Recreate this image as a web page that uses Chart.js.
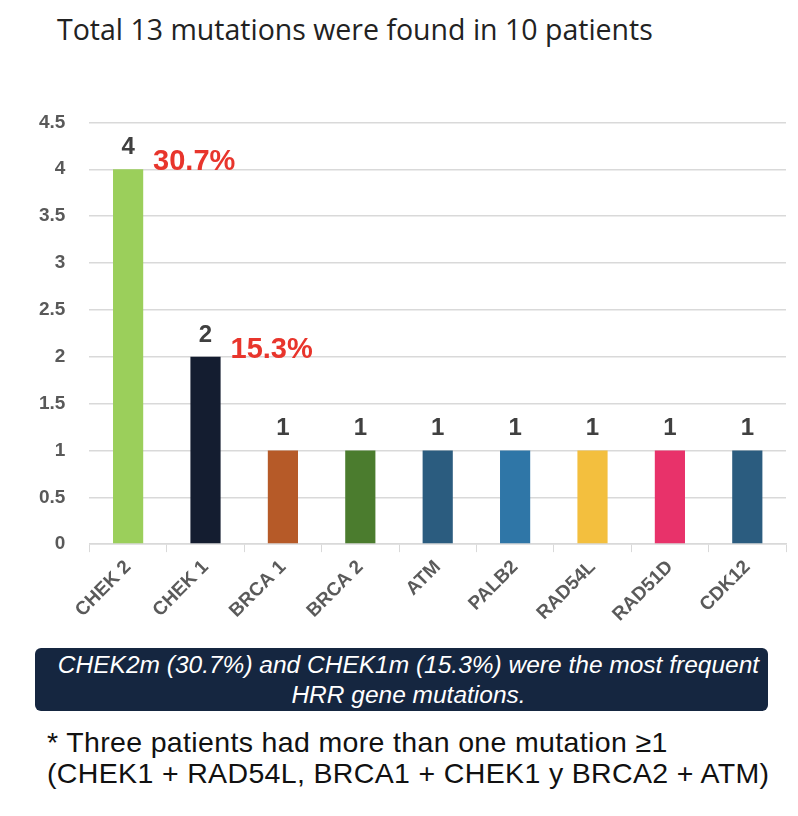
<!DOCTYPE html>
<html>
<head>
<meta charset="utf-8">
<script src="https://cdn.jsdelivr.net/npm/chart.js"></script>
<style>
    body { margin: 0; background: #fff; width: 798px; height: 816px; position: relative; overflow: hidden; font-family: "Open Sans", sans-serif; }
    #title { position: absolute; left: 57px; top: 10px; font-size: 28.5px; color: #222; letter-spacing: 0px; }
    #chart-wrap { position: absolute; left: 0; top: 87px; width: 798px; height: 543px; }
    #summary {
        position: absolute; left: 35px; top: 648px; width: 733px; height: 63px;
        background: #152640; border-radius: 6px; color: #fff;
        font-family: "Liberation Sans", sans-serif; font-style: italic;
        font-size: 24.5px; line-height: 30px; text-align: center; box-sizing: border-box; padding: 2px 0 0 14px;
    }
    #note {
        position: absolute; left: 47px; top: 727px; color: #111;
        font-family: "Liberation Sans", sans-serif;
        font-size: 28.5px; line-height: 31px; letter-spacing: 0.35px;
    }
</style>
</head>
<body>
<div id="title">Total 13 mutations were found in 10 patients</div>
<div id="chart-wrap"><canvas id="mutChart"></canvas></div>
<div id="summary">CHEK2m (30.7%) and CHEK1m (15.3%) were the most frequent<br>HRR gene mutations.</div>
<div id="note">* Three patients had more than one mutation ≥1<br>(CHEK1 + RAD54L, BRCA1 + CHEK1 y BRCA2 + ATM)</div>
<script>
const genes = ['CHEK 2', 'CHEK 1', 'BRCA 1', 'BRCA 2', 'ATM', 'PALB2', 'RAD54L', 'RAD51D', 'CDK12'];
const counts = [4, 2, 1, 1, 1, 1, 1, 1, 1];
const percents = ['30.7%', '15.3%', '', '', '', '', '', '', ''];
const barColors = ['#9bcf5b', '#141d30', '#b65a28', '#4b7c2e', '#2b5c7f', '#2f76a7', '#f3bf3e', '#e8326a', '#2b5c7f'];

// draws the count above each bar and the red share next to it
const valueLabels = {
    id: 'valueLabels',
    afterDatasetsDraw(chart) {
        const ctx = chart.ctx;
        const meta = chart.getDatasetMeta(0);
        ctx.save();
        ctx.textBaseline = 'alphabetic';
        meta.data.forEach((bar, i) => {
            ctx.font = 'bold 24px "Liberation Sans", Arial, sans-serif';
            ctx.fillStyle = '#404040';
            ctx.textAlign = 'center';
            ctx.fillText(String(counts[i]), bar.x, bar.y - 15);
            if (percents[i]) {
                ctx.font = 'bold 29px "Liberation Sans", Arial, sans-serif';
                ctx.fillStyle = '#e8352c';
                ctx.textAlign = 'left';
                ctx.fillText(percents[i], bar.x + 25, bar.y + 1);
            }
        });
        ctx.restore();
    }
};

new Chart(document.getElementById('mutChart'), {
    type: 'bar',
    data: {
        labels: genes,
        datasets: [{
            data: counts,
            backgroundColor: barColors,
            barPercentage: 0.39,
            categoryPercentage: 1.0
        }]
    },
    options: {
        responsive: true,
        maintainAspectRatio: false,
        animation: false,
        layout: { padding: { left: 15, right: 12, top: 0, bottom: 0 } },
        plugins: { legend: { display: false }, tooltip: { enabled: false } },
        scales: {
            y: {
                min: 0, max: 4.5,
                ticks: {
                    stepSize: 0.5, color: '#595959', padding: 24,
                    font: { size: 19, weight: 'bold', family: '"Liberation Sans", Arial, sans-serif' },
                    callback: v => String(v)
                },
                grid: { color: '#d9d9d9', lineWidth: 1.5, drawTicks: false },
                border: { display: false }
            },
            x: {
                ticks: { color: '#5a5a5a', maxRotation: 45, minRotation: 45, padding: 4, font: { size: 19, weight: 'bold', family: '"Liberation Sans", Arial, sans-serif' } },
                grid: { offset: true, drawOnChartArea: false, color: '#d9d9d9', tickLength: 8 },
                border: { color: '#d9d9d9', width: 1.5 }
            }
        }
    },
    plugins: [valueLabels]
});
</script>
</body>
</html>
